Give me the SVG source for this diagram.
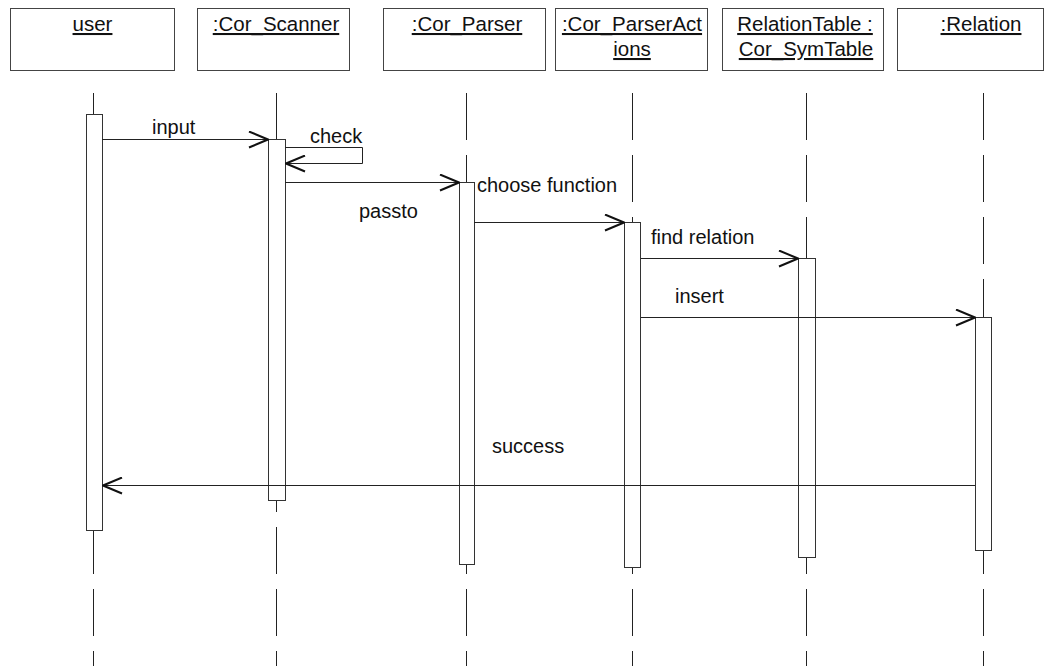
<svg xmlns="http://www.w3.org/2000/svg" width="1054" height="666" viewBox="0 0 1054 666">
  <style>
    text { font-family: "Liberation Sans", Arial, sans-serif; font-size: 20px; fill: #111; }
    .name { text-anchor: middle; text-decoration: underline; font-size: 20.5px; }
    .head { fill: #fff; stroke: #444; stroke-width: 1; }
    .life { stroke: #222; stroke-width: 1; stroke-dasharray: 47 15; fill: none; }
    .act { fill: #fff; stroke: #333; stroke-width: 1; }
    .msg { stroke: #222; stroke-width: 1; fill: none; }
  </style>
  <defs>
    <marker id="open" viewBox="0 0 21 18" refX="20" refY="9" markerWidth="21" markerHeight="18" markerUnits="userSpaceOnUse" orient="auto">
      <path d="M1,1 L20,9 L1,17" fill="none" stroke="#111" stroke-width="2"/>
    </marker>
  </defs>
  <rect width="1054" height="666" fill="#fff"/>

  <!-- lifelines -->
  <g id="lifelines">
    <line class="life" x1="93.5" y1="93" x2="93.5" y2="666"/>
    <line class="life" x1="276.5" y1="93" x2="276.5" y2="666"/>
    <line class="life" x1="466.5" y1="93" x2="466.5" y2="666"/>
    <line class="life" x1="632.5" y1="93" x2="632.5" y2="666"/>
    <line class="life" x1="806.5" y1="93" x2="806.5" y2="666"/>
    <line class="life" x1="983.5" y1="93" x2="983.5" y2="666"/>
  </g>

  <!-- participants -->
  <g id="user">
    <rect class="head" x="10.5" y="8.5" width="164" height="62"/>
    <text class="name" x="92.5" y="31">user</text>
    <rect class="act" x="86.5" y="114.5" width="16" height="416"/>
  </g>
  <g id="scanner">
    <rect class="head" x="197.5" y="8.5" width="152" height="62"/>
    <text class="name" x="276" y="31">:Cor_Scanner</text>
    <rect class="act" x="268.5" y="139.5" width="17" height="361"/>
  </g>
  <g id="parser">
    <rect class="head" x="383.5" y="8.5" width="162" height="62"/>
    <text class="name" x="467" y="31">:Cor_Parser</text>
    <rect class="act" x="459.5" y="182.5" width="15" height="382"/>
  </g>
  <g id="parser-actions">
    <rect class="head" x="555.5" y="8.5" width="152" height="62"/>
    <text class="name" x="632" y="31">:Cor_ParserAct</text>
    <text class="name" x="632" y="56">ions</text>
    <rect class="act" x="624.5" y="222.5" width="16" height="345"/>
  </g>
  <g id="relation-table">
    <rect class="head" x="722.5" y="8.5" width="161" height="62"/>
    <text class="name" x="805" y="31">RelationTable :</text>
    <text class="name" x="806" y="56">Cor_SymTable</text>
    <rect class="act" x="798.5" y="258.5" width="17" height="299"/>
  </g>
  <g id="relation">
    <rect class="head" x="897.5" y="8.5" width="146" height="62"/>
    <text class="name" x="981" y="31">:Relation</text>
    <rect class="act" x="975.5" y="317.5" width="16" height="233"/>
  </g>

  <!-- messages -->
  <g id="connectors">
    <line class="msg" x1="102" y1="139.5" x2="268" y2="139.5" marker-end="url(#open)"/>
    <text x="152" y="134">input</text>

    <path class="msg" d="M285,147.5 H362.5 V163.5 H286" marker-end="url(#open)"/>
    <text x="310" y="143">check</text>

    <line class="msg" x1="285" y1="182.5" x2="459" y2="182.5" marker-end="url(#open)"/>
    <text x="359" y="218">passto</text>

    <text x="477" y="192">choose function</text>
    <line class="msg" x1="474" y1="222.5" x2="624" y2="222.5" marker-end="url(#open)"/>

    <line class="msg" x1="641" y1="258.5" x2="798" y2="258.5" marker-end="url(#open)"/>
    <text x="651" y="244">find relation</text>

    <line class="msg" x1="641" y1="317.5" x2="975" y2="317.5" marker-end="url(#open)"/>
    <text x="675" y="303">insert</text>

    <line class="msg" x1="975" y1="485.5" x2="103" y2="485.5" marker-end="url(#open)"/>
    <text x="492" y="453">success</text>
  </g>
</svg>
